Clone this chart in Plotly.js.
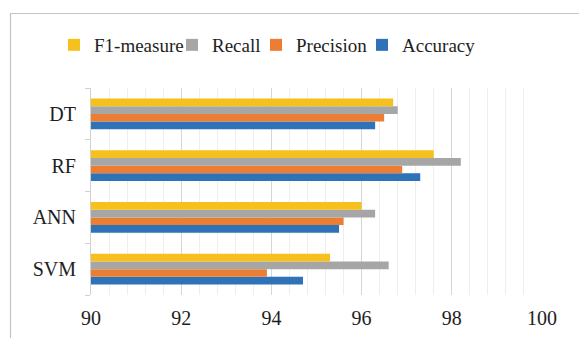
<!DOCTYPE html>
<html>
<head>
<meta charset="utf-8">
<script src="https://cdn.plot.ly/plotly-3.0.1.min.js"></script>
<style>
  html, body { margin: 0; padding: 0; background: #ffffff; }
</style>
</head>
<body>
<div id="chart" style="width:579px;height:338px"></div>
<script>
const categories = ['SVM', 'ANN', 'RF', 'DT'];
const accuracy  = [94.7, 95.5, 97.3, 96.3];
const precision = [93.9, 95.6, 96.9, 96.5];
const recall    = [96.6, 96.3, 98.2, 96.8];
const f1measure = [95.3, 96.0, 97.6, 96.7];
const xTicks = [90, 92, 94, 96, 98, 100];

const series = [
  { name: 'Accuracy',   values: accuracy,  color: '#2e72b8', legend: 'legend4' },
  { name: 'Precision',  values: precision, color: '#ec7e34', legend: 'legend3' },
  { name: 'Recall',     values: recall,    color: '#a6a6a6', legend: 'legend2' },
  { name: 'F1-measure', values: f1measure, color: '#f6c11f', legend: 'legend' }
];

const traces = series.map(s => ({
  type: 'bar',
  orientation: 'h',
  name: s.name,
  legend: s.legend,
  y: categories,
  x: s.values,
  marker: { color: s.color, line: { width: 0 } },
  hoverinfo: 'x+y+name'
}));

const FAMILY = 'Times New Roman';
const font = { family: FAMILY, color: '#1e1e1e' };

function legendAt(xpx) {
  return {
    orientation: 'h',
    xref: 'container', yref: 'container',
    x: xpx / 579, xanchor: 'left',
    y: 1 - 45 / 338, yanchor: 'middle',
    bgcolor: 'rgba(0,0,0,0)',
    font: Object.assign({}, font, { size: 19 }),
    itemclick: false, itemdoubleclick: false
  };
}

// pixel -> paper helpers for the decorative outer frame
const PL = 91, PR = 542, PT = 88, PB = 295;
const px2x = p => (p - PL) / (PR - PL);
const px2y = p => (PB - p) / (PB - PT);

const layout = {
  width: 579,
  height: 338,
  margin: { l: PL, r: 579 - PR, t: PT, b: 338 - PB, pad: 0 },
  paper_bgcolor: '#ffffff',
  plot_bgcolor: '#ffffff',
  font: Object.assign({}, font, { size: 19 }),
  barmode: 'group',
  bargap: 0.41,
  bargroupgap: 0,
  showlegend: true,
  legend: legendAt(54),
  legend2: legendAt(172),
  legend3: legendAt(256),
  legend4: legendAt(362),
  shapes: [
    { type: 'rect', xref: 'paper', yref: 'paper', layer: 'above',
      x0: px2x(10.5), x1: px2x(590), y0: px2y(350), y1: px2y(13.5),
      line: { color: '#c4c4c4', width: 1.2 }, fillcolor: 'rgba(0,0,0,0)' }
  ],
  xaxis: {
    range: [90, 100],
    tickmode: 'array',
    tickvals: xTicks,
    ticktext: xTicks.map(String),
    showgrid: true,
    gridcolor: '#d6d6d6',
    gridwidth: 1,
    minor: { dtick: 0.4, tick0: 90, showgrid: true, gridcolor: '#eeeeee', gridwidth: 1 },
    zeroline: false,
    showline: false,
    ticks: '',
    tickfont: Object.assign({}, font, { size: 20 }),
    ticklabelstandoff: 9,
    fixedrange: true
  },
  yaxis: {
    type: 'category',
    categoryorder: 'array',
    categoryarray: categories,
    showgrid: false,
    zeroline: false,
    showline: true,
    linecolor: '#d0d0d0',
    linewidth: 1,
    ticks: 'outside',
    tickson: 'boundaries',
    ticklen: 5,
    tickcolor: '#d0d0d0',
    tickfont: Object.assign({}, font, { size: 20 }),
    ticklabelstandoff: 10,
    fixedrange: true
  }
};

Plotly.newPlot('chart', traces, layout, { displayModeBar: false });
</script>
</body>
</html>
